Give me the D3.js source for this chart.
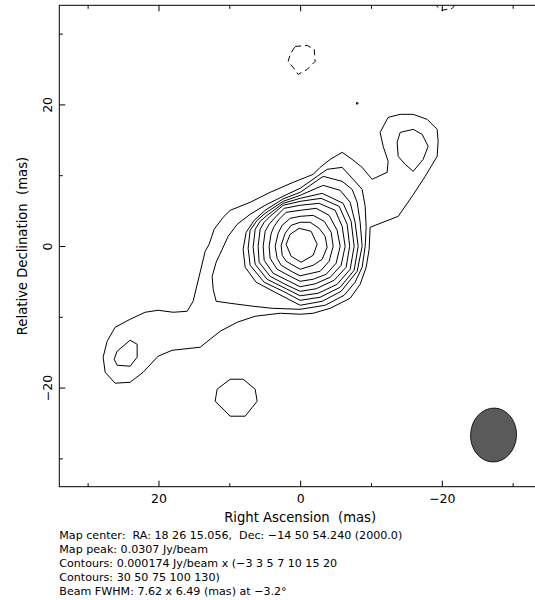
<!DOCTYPE html>
<html>
<head>
<meta charset="utf-8">
<script src="https://cdn.jsdelivr.net/npm/d3@7"></script>
<style>
  body { margin: 0; background: #fff; }
  svg { display: block; font-family: "DejaVu Sans", sans-serif; }
  text { white-space: pre; }
</style>
</head>
<body>
<svg id="map"></svg>
<script>
// Contour levels, as multiples of the base contour (Jy/beam)
const contourUnit = 0.000174;
const contourLevels = [-3, 3, 5, 7, 10, 15, 20, 30, 50, 75, 100, 130];

// Contour polygons, [relative RA, relative Dec] in mas
const cNeg3Blob = [[0.71, 28.19], [-0.99, 28.33], [-1.98, 27.77], [-2.12, 26.08], [-0.99, 24.94],
    [0.28, 24.24], [0.99, 25.23], [1.69, 26.08], [1.41, 27.06]];
const cNeg3Edge = [[-18.35, 35.53], [-18.78, 34.40], [-19.91, 33.28], [-21.46, 33.56], [-22.31, 34.55], [-21.88, 35.67]];

const c3Main = [[-15.95, 18.60], [-14.12, 18.60], [-12.42, 18.17], [-11.29, 16.05], [-11.72, 14.08],
    [-12.42, 11.96], [-12.28, 10.41], [-10.16, 9.42], [-8.75, 11.11], [-7.34, 12.24], [-5.93, 13.23],
    [-4.24, 12.24], [-2.82, 11.11], [-1.84, 10.12], [0.99, 8.99], [4.24, 7.58], [7.06, 6.17],
    [9.88, 5.04], [10.87, 4.05], [12.14, 2.36], [12.85, 0.24], [13.41, -0.75], [14.12, -3.71],
    [15.11, -7.81], [15.95, -9.22], [17.93, -9.36], [20.05, -9.08], [21.88, -9.36], [24.00, -10.35],
    [26.12, -11.48], [27.25, -13.46], [27.81, -15.71], [27.53, -17.83], [26.12, -19.38], [24.00, -19.25],
    [22.17, -17.83], [20.05, -15.57], [18.07, -14.73], [14.12, -14.30], [11.29, -12.04], [8.89, -10.77],
    [6.35, -9.92], [2.82, -9.50], [0, -9.64], [-1.84, -9.50], [-4.24, -8.80], [-7.06, -7.38],
    [-8.47, -5.41], [-9.32, -3.01], [-9.74, -0.47], [-9.88, 2.64], [-13.84, 4.19], [-15.81, 7.02],
    [-17.65, 9.84], [-19.34, 12.66], [-19.48, 14.78], [-19.34, 16.48], [-17.93, 17.89]];
const c3South = [[9.88, -18.82], [8.05, -18.82], [6.35, -20.23], [6.07, -21.93], [7.76, -24.04],
    [9.88, -24.04], [12.00, -21.93], [11.72, -20.23]];
const c3Dot = [[-7.95, 20.25], [-8.15, 20.25], [-8.15, 20.05], [-7.95, 20.05]];

const c5Core = [[11.01, -0.47], [10.16, 1.37], [8.89, 3.06], [7.06, 4.48], [4.94, 5.75], [2.12, 7.16],
    [0, 8.15], [-3.81, 10.83], [-5.93, 11.11], [-7.48, 9.42], [-8.75, 8.00], [-9.18, 5.60],
    [-9.32, 2.64], [-9.18, -0.04], [-8.75, -3.01], [-7.76, -5.12], [-6.21, -6.96], [-3.53, -8.37],
    [0, -8.94], [3.95, -8.80], [6.64, -8.51], [9.88, -8.09], [11.86, -7.81], [12.28, -6.11],
    [12.42, -4.28], [11.86, -2.30]];
const c5NorthEast = [[-14.12, 16.05], [-15.96, 16.48], [-17.22, 15.77], [-18.07, 14.08], [-17.36, 12.24],
    [-15.96, 10.55], [-14.82, 11.53], [-13.84, 12.66], [-13.69, 14.64]];
const c5SouthWest = [[25.84, -14.87], [24.00, -13.31], [23.01, -13.88], [23.01, -15.71], [24.00, -16.98],
    [25.84, -16.84], [26.26, -16.00]];

const c7 = [[8.05, -0.47], [7.62, 1.93], [6.49, 3.63], [4.94, 5.04], [2.40, 6.66], [0, 7.58],
    [-3.25, 9.84], [-5.93, 9.13], [-7.34, 8.00], [-8.05, 6.17], [-8.47, 3.35], [-8.75, -0.04],
    [-8.05, -3.57], [-5.79, -6.40], [-3.11, -7.81], [0, -8.37], [3.53, -6.54], [6.21, -5.12], [7.76, -3.01]];
const c10 = [[7.34, -0.32], [7.06, 2.22], [6.07, 3.63], [4.94, 4.62], [2.40, 6.31], [0, 7.16],
    [-3.25, 8.57], [-5.65, 7.86], [-7.06, 6.17], [-7.76, 3.35], [-8.19, -0.04], [-7.62, -3.43],
    [-5.65, -5.83], [-2.82, -7.24], [0, -7.67], [2.40, -6.40], [5.08, -5.12], [7.06, -2.72]];
const c15 = [[6.64, -0.18], [6.35, 2.36], [5.65, 3.49], [4.66, 4.33], [2.40, 6.03], [0, 6.73],
    [-3.11, 7.44], [-6.07, 6.03], [-7.20, 3.49], [-7.62, -0.04], [-7.06, -3.29], [-5.22, -5.41],
    [-2.54, -6.68], [0, -7.03], [2.12, -5.97], [4.66, -4.70], [6.35, -2.58]];
const c20 = [[5.93, -0.04], [5.65, 2.36], [5.08, 3.35], [4.24, 4.19], [2.40, 5.75], [0, 6.31],
    [-2.96, 6.73], [-5.51, 5.60], [-6.64, 3.06], [-6.99, -0.04], [-6.49, -3.01], [-4.80, -4.84],
    [-2.26, -6.04], [0, -6.40], [1.84, -5.55], [4.24, -4.28], [5.79, -2.30]];
const c30 = [[5.22, -0.04], [4.94, 2.08], [4.38, 3.06], [3.53, 4.05], [2.26, 5.32], [0, 5.75],
    [-2.68, 6.03], [-4.94, 5.04], [-5.93, 2.78], [-6.35, -0.04], [-5.79, -2.72], [-4.24, -4.42],
    [-2.12, -5.34], [0, -5.76], [1.55, -4.98], [3.81, -3.85], [5.08, -2.02]];
const c50 = [[4.38, -0.04], [4.09, 1.79], [3.67, 2.78], [2.96, 3.77], [1.98, 4.76], [0, 5.04],
    [-2.26, 5.32], [-4.09, 4.33], [-5.22, 2.22], [-5.65, -0.04], [-5.08, -2.44], [-3.67, -4.00],
    [-1.84, -4.70], [0, -4.98], [1.27, -4.35], [3.25, -3.29], [4.24, -1.74]];
const c75 = [[3.53, -0.04], [3.11, 1.79], [2.54, 2.92], [1.41, 3.91], [0, 4.19], [-1.84, 4.33],
    [-3.39, 3.49], [-4.38, 1.93], [-4.66, -0.04], [-4.09, -2.16], [-2.82, -3.57], [0, -4.21],
    [1.13, -3.64], [2.68, -2.72], [3.25, -1.74]];
const c100 = [[2.68, 0.10], [2.12, 1.79], [1.27, 2.92], [0, 3.35], [-1.41, 3.35], [-2.68, 2.50],
    [-3.53, 1.37], [-3.81, -0.18], [-3.11, -1.88], [-1.84, -2.72], [0, -3.29], [1.98, -2.16], [2.54, -1.31]];
const c130 = [[1.98, 0.24], [1.41, 1.65], [0.14, 2.50], [-1.55, 2.08], [-2.40, 0.24], [-1.84, -1.31],
    [-0.14, -2.30], [1.27, -1.45]];

// Restoring beam (mas, degrees) and axis ticks
const beam = { ra: -27.3, dec: -26.7, major: 7.62, minor: 6.49, pa: -3.2 };
const majorTicks = [-20, 0, 20];
const minorTicks = [-30, -10, 10, 30];

const infoLines = [
    "Map center:  RA: 18 26 15.056,  Dec: \u221214 50 54.240 (2000.0)",
    "Map peak: 0.0307 Jy/beam",
    "Contours: 0.000174 Jy/beam x (\u22123 3 5 7 10 15 20",
    "Contours: 30 50 75 100 130)",
    "Beam FWHM: 7.62 x 6.49 (mas) at \u22123.2\u00b0"
];

const contours = [
    { level: -3, points: cNeg3Blob }, { level: -3, points: cNeg3Edge },
    { level: 3, points: c3Main }, { level: 3, points: c3South }, { level: 3, points: c3Dot },
    { level: 5, points: c5Core }, { level: 5, points: c5NorthEast }, { level: 5, points: c5SouthWest },
    { level: 7, points: c7 }, { level: 10, points: c10 }, { level: 15, points: c15 },
    { level: 20, points: c20 }, { level: 30, points: c30 }, { level: 50, points: c50 },
    { level: 75, points: c75 }, { level: 100, points: c100 }, { level: 130, points: c130 }
];

// Layout
const margin = { top: 5.3, left: 59.3 };
const width = 481.7;
const height = 481.4;

const svg = d3.select("#map")
    .attr("width", 535)
    .attr("height", 600);

const g = svg.append("g")
    .attr("transform", `translate(${margin.left}, ${margin.top})`);

// RA increases to the left
const x = d3.scaleLinear().domain([34, -34]).range([0, width]);
const y = d3.scaleLinear().domain([-34, 34]).range([height, 0]);

svg.append("defs").append("clipPath")
    .attr("id", "plotClip")
    .append("rect")
    .attr("width", width)
    .attr("height", height);

const line = d3.line()
    .x(d => x(d[0]))
    .y(d => y(d[1]))
    .curve(d3.curveLinearClosed);

g.append("g")
    .attr("clip-path", "url(#plotClip)")
    .selectAll("path")
    .data(contours)
    .enter().append("path")
    .attr("d", d => line(d.points))
    .attr("fill", "none")
    .attr("stroke", "#000")
    .attr("stroke-width", 1)
    .attr("stroke-linejoin", "round")
    .attr("stroke-dasharray", d => d.level < 0 ? "6,4" : null);

// Beam ellipse in the lower right corner
g.append("ellipse")
    .attr("cx", x(beam.ra))
    .attr("cy", y(beam.dec))
    .attr("rx", Math.abs(x(beam.minor / 2) - x(0)))
    .attr("ry", Math.abs(y(beam.major / 2) - y(0)))
    .attr("transform", `rotate(${-beam.pa}, ${x(beam.ra)}, ${y(beam.dec)})`)
    .attr("fill", "#5a5a5a")
    .attr("stroke", "#000")
    .attr("stroke-width", 0.8);

// Axes: ticks point inwards on all four sides
function styleAxis(sel) {
    sel.select(".domain").remove();
    sel.attr("font-family", null).attr("font-size", 12.5);
    sel.selectAll("line").attr("stroke", "#000");
}

g.append("g")
    .attr("transform", `translate(0, ${height})`)
    .call(d3.axisBottom(x).tickValues(majorTicks).tickSize(-6).tickPadding(7).tickFormat(d3.format("d")))
    .call(styleAxis);
g.append("g")
    .attr("transform", `translate(0, ${height})`)
    .call(d3.axisBottom(x).tickValues(minorTicks).tickSize(-3.5).tickFormat(""))
    .call(styleAxis);
g.append("g")
    .call(d3.axisTop(x).tickValues(majorTicks).tickSize(-6).tickFormat(""))
    .call(styleAxis);
g.append("g")
    .call(d3.axisTop(x).tickValues(minorTicks).tickSize(-3.5).tickFormat(""))
    .call(styleAxis);

const leftAxis = g.append("g")
    .call(d3.axisLeft(y).tickValues(majorTicks).tickSize(-6).tickFormat(d3.format("d")))
    .call(styleAxis);
leftAxis.selectAll("text")
    .attr("x", null)
    .attr("dy", null)
    .attr("text-anchor", "middle")
    .attr("transform", "translate(-7.6, 0) rotate(-90)");
g.append("g")
    .call(d3.axisLeft(y).tickValues(minorTicks).tickSize(-3.5).tickFormat(""))
    .call(styleAxis);
g.append("g")
    .attr("transform", `translate(${width}, 0)`)
    .call(d3.axisRight(y).tickValues(majorTicks).tickSize(-6).tickFormat(""))
    .call(styleAxis);
g.append("g")
    .attr("transform", `translate(${width}, 0)`)
    .call(d3.axisRight(y).tickValues(minorTicks).tickSize(-3.5).tickFormat(""))
    .call(styleAxis);

// Frame
g.append("rect")
    .attr("width", width)
    .attr("height", height)
    .attr("fill", "none")
    .attr("stroke", "#000")
    .attr("stroke-width", 1);

// Axis titles
svg.append("text")
    .attr("x", margin.left + width / 2)
    .attr("y", 521.5)
    .attr("text-anchor", "middle")
    .style("font-size", "13.2px")
    .text("Right Ascension  (mas)");

svg.append("text")
    .attr("transform", `translate(26.7, ${margin.top + height / 2}) rotate(-90)`)
    .attr("text-anchor", "middle")
    .style("font-size", "13.2px")
    .text("Relative Declination  (mas)");

// Map information below the plot
svg.append("g")
    .selectAll("text")
    .data(infoLines)
    .enter().append("text")
    .attr("x", margin.left)
    .attr("y", (d, i) => 539 + i * 14)
    .style("font-size", "11.1px")
    .text(d => d);
</script>
</body>
</html>
